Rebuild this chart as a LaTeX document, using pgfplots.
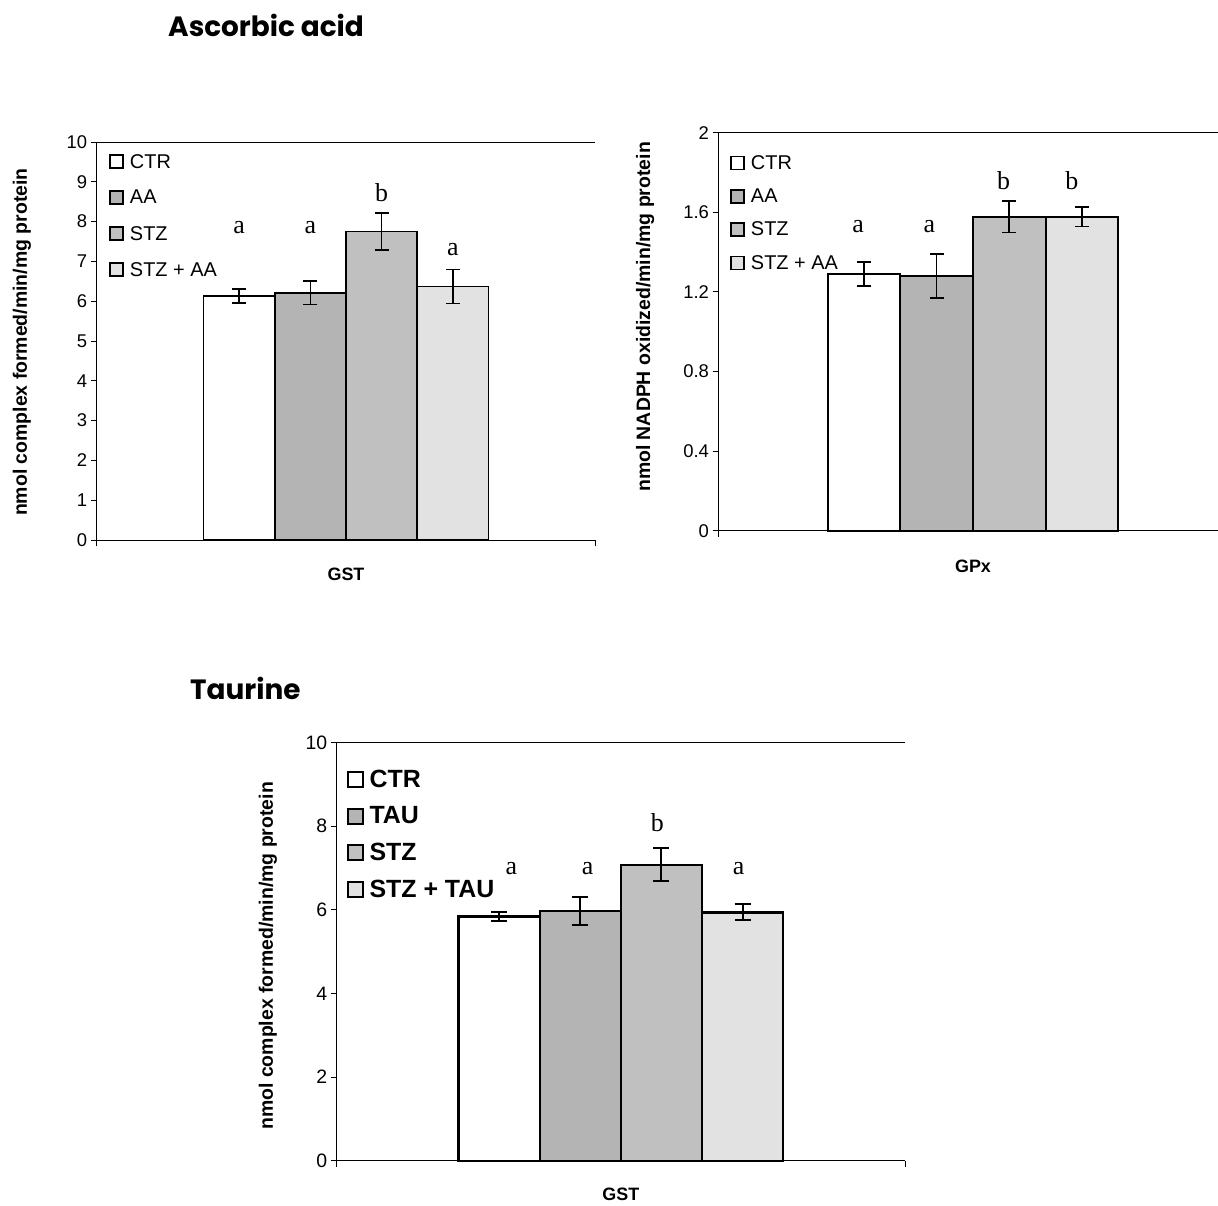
\documentclass[border=0pt]{standalone}
\usepackage{fontspec}
\setmainfont{Liberation Sans}
\newfontfamily\letterfont{Liberation Serif}
\newfontfamily\titlefont{Poppins}
\usepackage{pgfplots}
\pgfplotsset{compat=1.18}

\definecolor{ctr}{HTML}{FFFFFF}
\definecolor{trt}{HTML}{B4B4B4}
\definecolor{stz}{HTML}{C0C0C0}
\definecolor{stztrt}{HTML}{E2E2E2}

\tikzset{letter/.style={font=\letterfont\fontsize{26}{26}\selectfont, inner sep=0pt}}

\pgfplotsset{
  panel/.style={
    scale only axis, anchor=south west, clip=false,
    ybar, bar width=1,
    axis x line=bottom, axis y line=left,
    axis line style={-, line width=1bp, black},
    ymin=0, xmin=-3.5,
    xtick={-3.5,3.5}, xticklabels={},
    tick align=outside, major tick length=6bp,
    tick style={line width=1bp, black},
    /pgf/number format/assume math mode=true,
    yticklabel style={font=\fontsize{18.5}{18.5}\selectfont},
    every axis y label/.style={rotate=90, anchor=center, font=\fontsize{19.5}{19.5}\selectfont\bfseries},
    every axis x label/.style={anchor=center, font=\fontsize{18}{18}\selectfont\bfseries},
    error bars/y dir=both, error bars/y explicit,
    error bars/error bar style={line width=1.7bp, black},
    error bars/error mark options={rotate=90, mark size=7bp, line width=1.7bp, black},
    legend cell align=left,
    legend image code/.code={\draw[#1, line width=1.6bp] (0bp,-6.5bp) rectangle (13bp,6.5bp);},
    every axis plot/.append style={bar shift=0pt, draw=black, line width=1.7bp},
  },
}

\begin{document}
\begin{tikzpicture}
\path[use as bounding box] (0,0) rectangle (1218bp,-1206bp);

\node[anchor=west, inner sep=0pt, font=\titlefont\bfseries\fontsize{28}{28}\selectfont] at (168bp,-25bp) {Ascorbic acid};
\node[anchor=west, inner sep=0pt, font=\titlefont\bfseries\fontsize{28}{28}\selectfont] at (190bp,-688bp) {Taurine};

% GST, ascorbic acid groups
\begin{axis}[panel, at={(96.7bp,-540bp)}, width=498.6bp, height=398bp,
  xmax=3.5, ymax=10, ytick={0,1,...,10},
  xlabel={GST}, xlabel style={at={(axis description cs:0.5,0)}, yshift=-34bp},
  ylabel={nmol complex formed/min/mg protein}, ylabel style={at={(axis description cs:-0.150,0.497)}},
  legend style={at={(axis description cs:0.025,0.996)}, anchor=north west, draw=none, fill=none,
    inner sep=0pt, row sep=0pt, /tikz/column sep=6bp,
    nodes={inner sep=0pt, minimum height=36bp, anchor=west, font=\fontsize{20}{20}\selectfont}},
]
\addplot[fill=ctr] coordinates {(-1.5,6.13) +- (0,0.18)};
\addplot[fill=trt] coordinates {(-0.5,6.21) +- (0,0.29)};
\addplot[fill=stz] coordinates {(0.5,7.75) +- (0,0.46)};
\addplot[fill=stztrt] coordinates {(1.5,6.37) +- (0,0.43)};
\legend{CTR,AA,STZ,STZ + AA}
\draw[line width=1bp] (rel axis cs:0,1) -- (rel axis cs:1,1);
\node[letter] at (axis cs:-1.5,7.84) {a};
\node[letter] at (axis cs:-0.5,7.84) {a};
\node[letter] at (axis cs:0.5,8.72) {b};
\node[letter] at (axis cs:1.5,7.29) {a};
\end{axis}

% GPx, ascorbic acid groups
\begin{axis}[panel, at={(718.5bp,-530.7bp)}, width=499.5bp, height=398bp,
  xmax=3.37, ymax=2, ytick={0,0.4,0.8,1.2,1.6,2},
  xtick={-3.5}, 
  xlabel={GPx}, xlabel style={at={(axis description cs:0.5095,0)}, yshift=-36bp},
  ylabel={nmol NADPH oxidized/min/mg protein}, ylabel style={at={(axis description cs:-0.147,0.537)}},
  every axis plot/.append style={line width=2bp},
  legend style={at={(axis description cs:0.0234,0.966)}, anchor=north west, draw=none, fill=none,
    inner sep=0pt, row sep=0pt, /tikz/column sep=6bp,
    nodes={inner sep=0pt, minimum height=33.3bp, anchor=west, font=\fontsize{20}{20}\selectfont}},
]
\addplot[fill=ctr] coordinates {(-1.5,1.289) +- (0,0.06)};
\addplot[fill=trt] coordinates {(-0.5,1.280) +- (0,0.11)};
\addplot[fill=stz] coordinates {(0.5,1.578) +- (0,0.08)};
\addplot[fill=stztrt] coordinates {(1.5,1.578) +- (0,0.05)};
\legend{CTR,AA,STZ,STZ + AA}
\draw[line width=1bp] (rel axis cs:0,1) -- (rel axis cs:1,1);
\node[letter] at (axis cs:-1.58,1.528) {a};
\node[letter] at (axis cs:-0.6,1.528) {a};
\node[letter] at (axis cs:0.42,1.757) {b};
\node[letter] at (axis cs:1.36,1.757) {b};
\end{axis}

% GST, taurine groups
\begin{axis}[panel, at={(336.7bp,-1160.7bp)}, width=568.3bp, height=418bp,
  xmax=3.5, ymax=10, ytick={0,2,...,10},
  yticklabel style={font=\fontsize{19.5}{19.5}\selectfont},
  xlabel={GST}, xlabel style={at={(axis description cs:0.5,0)}, yshift=-34bp},
  ylabel={nmol complex formed/min/mg protein}, ylabel style={at={(axis description cs:-0.121,0.49)}},
  every axis plot/.append style={line width=2.3bp},
  error bars/error bar style={line width=2bp, black},
  error bars/error mark options={rotate=90, mark size=8bp, line width=2bp, black},
  legend image code/.code={\draw[#1, line width=2bp] (0bp,-7.5bp) rectangle (15bp,7.5bp);},
  legend style={at={(axis description cs:0.017,0.957)}, anchor=north west, draw=none, fill=none,
    inner sep=0pt, row sep=0pt, /tikz/column sep=6bp,
    nodes={inner sep=0pt, minimum height=36.8bp, anchor=west, font=\fontsize{25}{25}\selectfont\bfseries}},
]
\addplot[fill=ctr] coordinates {(-1.5,5.84) +- (0,0.10)};
\addplot[fill=trt] coordinates {(-0.5,5.98) +- (0,0.33)};
\addplot[fill=stz] coordinates {(0.5,7.08) +- (0,0.39)};
\addplot[fill=stztrt] coordinates {(1.5,5.94) +- (0,0.19)};
\legend{CTR,TAU,STZ,STZ + TAU}
\draw[line width=1bp] (rel axis cs:0,1) -- (rel axis cs:1,1);
\node[letter] at (axis cs:-1.35,7.0) {a};
\node[letter] at (axis cs:-0.41,7.0) {a};
\node[letter] at (axis cs:0.45,8.09) {b};
\node[letter] at (axis cs:1.45,7.0) {a};
\end{axis}
\end{tikzpicture}
\end{document}
